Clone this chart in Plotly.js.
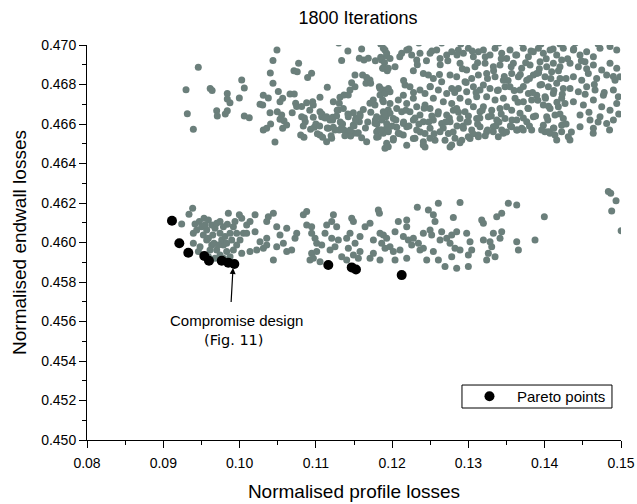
<!DOCTYPE html>
<html>
<head>
<meta charset="utf-8">
<script src="https://cdn.plot.ly/plotly-3.0.1.min.js"></script>
<style>html,body{margin:0;padding:0;background:#fff;}#chart{width:637px;height:504px;}</style>
</head>
<body>
<div id="chart"></div>
<script>
// Pareto front (black points)
const paretoX = [0.09114, 0.09210, 0.09328, 0.09538, 0.09599, 0.09766, 0.09852, 0.09931, 0.11163, 0.11470, 0.11526, 0.12125];
const paretoY = [0.46110, 0.45996, 0.45948, 0.45932, 0.45908, 0.45908, 0.45898, 0.45891, 0.45886, 0.45874, 0.45863, 0.45835];

// All evaluated designs, lower band [profile, endwall]
const lowerBand = [
[.09385,.46173],[.09337,.46143],[.09241,.46094],[.09416,.46094],[.09394,.46047],[.09473,.46106],[.09534,.46123],[.09591,.46114],[.09503,.46080],[.09569,.46063],[.09635,.46089],[.09678,.46072],[.09744,.46106],[.09744,.46047],[.09648,.46038],[.09788,.46080],[.09840,.46092],[.09853,.46148],[.09919,.46080],[.09962,.46047],[.09997,.46140],[.10028,.46123],[.10093,.46089],[.10137,.46106],[.10203,.46140],[.10203,.46055],[.10050,.46047],[.09569,.46013],[.09482,.45979],[.09635,.45987],[.09700,.45962],[.09788,.45987],[.09831,.45954],[.09897,.46013],[.09962,.45987],[.10028,.45945],[.09744,.45937],[.09875,.45928],[.09678,.45920],[.10137,.45954],[.10006,.46013],[.09460,.45954],[.10268,.46004],[.10225,.45962],[.10312,.45971],[.10356,.46021],[.10356,.46106],[.10377,.46131],[.10443,.46148],[.10487,.46080],[.10530,.46038],[.10443,.45911],[.10356,.45987],[.10487,.45979],[.10574,.45996],[.10618,.45954],[.10683,.45962],[.10727,.46021],[.10749,.46047],[.10618,.46072],[.10836,.46140],[.10880,.46157],[.10880,.46089],[.10945,.46080],[.10945,.46047],[.10989,.46021],[.11011,.45996],[.10945,.45945],[.11011,.45954],[.11077,.45987],[.11120,.46047],[.11142,.46089],[.11208,.46106],[.11230,.46140],[.11273,.46080],[.11208,.46021],[.11186,.45962],[.11251,.45979],[.11295,.46013],[.11339,.45928],[.11404,.46021],[.11426,.45971],[.11448,.46047],[.11470,.46123],[.11492,.46106],[.11514,.45996],[.11579,.46030],[.11579,.45954],[.11645,.46080],[.11710,.46097],[.11754,.46013],[.11710,.45920],[.11819,.46165],[.11833,.46148],[.11841,.46047],
[.10923,.45911],[.10967,.45920],[.11055,.45903],[.11404,.45911],[.11492,.45937],[.11557,.45920],[.11754,.45945],[.11841,.45911],
[.09438,.46063],[.09525,.46038],[.09591,.46021],[.09665,.45996],[.09766,.46013],[.09831,.45996],[.09919,.45962],[.09722,.45987],[.09613,.45962],[.09809,.46030],[.09547,.46089],[.09700,.46097],[.09875,.46047],[.09940,.46106],[.10093,.46047],[.09394,.45996],[.09788,.45920],[.09591,.45928],
[.11885,.46038],[.11928,.46021],[.11863,.45996],[.11907,.45971],[.11972,.45979],[.12038,.46055],[.12081,.46106],[.12191,.46114],[.12191,.46080],[.12147,.46030],[.12212,.46013],[.12278,.46021],[.12256,.45987],[.12344,.45996],[.12365,.45962],[.12409,.45971],[.12016,.45954],[.12103,.45962],[.12191,.45920],[.12038,.45911],[.12330,.46178],[.12475,.46165],[.12540,.46140],[.12606,.46199],[.12562,.46106],[.12497,.46063],[.12409,.46047],[.12518,.46038],[.12628,.46013],[.12649,.46055],[.12715,.46021],[.12781,.46038],[.12759,.45996],[.12846,.46055],[.12824,.45971],[.12890,.45962],[.12977,.46047],[.13021,.46004],[.13043,.45962],[.12999,.45937],[.12890,.46202],[.12802,.46126],[.12781,.45928],[.12540,.45954],[.12453,.45911],[.12606,.45911],[.12693,.45878],[.12846,.45869],[.12999,.45878],[.13174,.46114],[.13196,.46097],[.13371,.46131],[.13436,.46148],[.13523,.46199],[.13633,.46190],[.13327,.46047],[.13436,.46055],[.13196,.46013],[.13283,.46004],[.13305,.45979],[.13261,.45945],[.13239,.45911],[.13349,.45928],[.13414,.46021],[.13633,.46004],[.13655,.45962],[.13873,.46013],[.13995,.46131],
[.14834,.46258],[.14865,.46249],[.14935,.46212],[.14878,.46160],[.15002,.46060]
];

// All evaluated designs, upper band [profile, endwall]
const upperBand = [
[.09459,.46887],[.09298,.46774],[.09315,.46652],[.09394,.46573],[.09615,.46780],[.09640,.46770],[.09839,.46755],[.09839,.46727],[.09874,.46708],[.09700,.46667],[.09708,.46641],[.09813,.46651],[.09839,.46667],
[.09997,.46732],[.10028,.46823],[.10062,.46782],[.10062,.46641],[.10127,.46632],[.10438,.46921],[.10490,.46975],[.10403,.46858],[.10438,.46806],[.10268,.46700],[.10303,.46696],[.10311,.46745],[.10377,.46732],[.10399,.46657],[.10311,.46570],[.10355,.46578],[.10407,.46600],[.10464,.46509],[.10508,.46764],[.10530,.46713],[.10565,.46730],[.10494,.46662],[.10552,.46646],[.10530,.46624],[.10582,.46617],[.10565,.46578],[.10617,.46595],[.10661,.46752],[.10717,.46752],[.10713,.46870],[.10756,.46865],[.10774,.46907],[.10690,.46657],[.10735,.46705],[.10748,.46688],[.10814,.46688],[.10879,.46708],[.10958,.46713],[.10966,.46696],[.10814,.46637],[.10861,.46612],[.10835,.46590],[.10801,.46544],[.10844,.46533],[.10892,.46836],[.10944,.46857],[.10931,.46573],[.10979,.46583],[.10966,.46634],[.11054,.46735],[.11054,.46662],[.11076,.46637],[.11054,.46544],[.11089,.46533],[.11150,.46786],[.11141,.46510],[.11207,.46528],[.11141,.46637],[.11185,.46620],[.11220,.46634],[.11272,.46641],[.11163,.46578],[.11229,.46583],[.11307,.46570],[.11338,.46583],[.11369,.46570],[.11229,.46713],[.11307,.46705],[.11316,.46735],[.11369,.46747],[.11425,.46747],[.11338,.46921],[.11294,.46671],[.11360,.46679],[.11425,.46637],[.11491,.46657],[.11526,.46629],[.11578,.46651],[.11622,.46674],[.11570,.46612],[.11447,.46772],[.11513,.46789],[.11469,.46809],[.11513,.46848],[.11570,.46933],[.11631,.46924],[.11687,.46933],[.11709,.46823],[.11657,.46806],[.11718,.46806],[.11613,.46848],[.11666,.46836],[.11491,.46553],[.11556,.46556],[.11491,.46595],[.11666,.46510],[.11797,.46533],[.11818,.46570],[.11775,.46604],[.11709,.46705],[.11775,.46696],[.11753,.46722],[.11841,.46747],[.11875,.46722],[.11832,.46789],[.11884,.46772],[.11850,.46938],[.11927,.46944],[.11906,.46975],[.11875,.46882],[.11936,.46870],[.11797,.46637],[.11862,.46620],[.11919,.46637],[.11884,.46662],[.11949,.46671],[.11927,.46578],[.11884,.46553],
[.11885,.46983],[.11928,.46958],[.11863,.46924],[.11972,.46932],[.11885,.46882],[.11950,.46882],[.12038,.46890],[.11841,.46780],[.11907,.46755],[.11972,.46763],[.11885,.46713],[.11972,.46704],[.12081,.46721],[.12147,.46746],[.12060,.46679],[.12125,.46662],[.11972,.46654],[.11885,.46637],[.12016,.46628],[.11928,.46603],[.11863,.46569],[.11950,.46561],[.12060,.46583],[.12147,.46603],[.12016,.46527],[.11928,.46502],
[.12125,.46958],[.12191,.46975],[.12256,.46949],[.12322,.46924],[.12365,.46958],[.12278,.46870],[.12409,.46856],[.12169,.46797],[.12234,.46789],[.12365,.46772],[.12431,.46755],[.12278,.46730],[.12191,.46704],[.12322,.46687],[.12431,.46696],[.12234,.46662],[.12365,.46645],[.12278,.46620],[.12409,.46611],[.12191,.46586],[.12322,.46569],[.12431,.46552],[.12278,.46527],[.12409,.46510],[.12191,.46493],
[.12497,.46958],[.12584,.46975],[.12628,.46932],[.12715,.46949],[.12781,.46966],[.12475,.46848],[.12540,.46831],[.12649,.46814],[.12759,.46848],[.12497,.46789],[.12606,.46772],[.12715,.46755],[.12781,.46780],[.12540,.46730],[.12671,.46713],[.12781,.46704],[.12497,.46679],[.12606,.46662],[.12715,.46645],[.12802,.46670],[.12540,.46620],[.12649,.46603],[.12759,.46611],[.12497,.46578],[.12628,.46561],[.12737,.46552],[.12562,.46518],[.12693,.46518],[.12759,.46484],[.12431,.46484],
[.12868,.46975],[.12934,.46958],[.12999,.46983],[.13065,.46941],[.13130,.46966],[.12890,.46907],[.12977,.46873],[.13086,.46890],[.12846,.46839],[.12955,.46814],[.13043,.46831],[.13130,.46848],[.12868,.46780],[.12977,.46763],[.13065,.46789],[.13152,.46772],[.12890,.46730],[.12999,.46713],[.13108,.46738],[.12846,.46679],[.12955,.46662],[.13065,.46687],[.13152,.46662],[.12890,.46628],[.12999,.46611],[.13108,.46628],[.12934,.46578],[.13043,.46569],[.13152,.46586],[.13021,.46527],[.13130,.46535],[.12912,.46518],
[.13196,.46975],[.13283,.46949],[.13349,.46983],[.13436,.46958],[.13502,.46932],[.13218,.46907],[.13327,.46890],[.13414,.46899],[.13239,.46856],[.13349,.46839],[.13458,.46822],[.13196,.46797],[.13283,.46780],[.13392,.46772],[.13480,.46789],[.13239,.46738],[.13349,.46721],[.13458,.46730],[.13196,.46687],[.13305,.46670],[.13414,.46679],[.13502,.46687],[.13261,.46637],[.13371,.46620],[.13480,.46628],[.13327,.46586],[.13436,.46569],[.13239,.46561],[.13392,.46535],
[.13545,.46975],[.13633,.46949],[.13720,.46983],[.13786,.46941],[.13851,.46966],[.13589,.46907],[.13698,.46882],[.13808,.46899],[.13567,.46856],[.13655,.46839],[.13764,.46822],[.13851,.46848],[.13545,.46789],[.13676,.46772],[.13786,.46755],[.13611,.46730],[.13720,.46713],[.13829,.46721],[.13567,.46670],[.13676,.46654],[.13786,.46679],[.13633,.46620],[.13764,.46611],[.13851,.46637],[.13698,.46578],[.13829,.46569],[.13567,.46586],
[.13917,.46983],[.13982,.46958],[.14070,.46975],[.14157,.46949],[.14244,.46983],[.13939,.46915],[.14026,.46890],[.14113,.46907],[.14222,.46924],[.13895,.46856],[.14004,.46839],[.14091,.46865],[.14201,.46831],[.13939,.46797],[.14048,.46789],[.14157,.46806],[.14244,.46780],[.13895,.46746],[.14004,.46738],[.14113,.46755],[.14222,.46730],[.13982,.46696],[.14070,.46679],[.14179,.46687],[.14266,.46704],[.14026,.46637],[.14135,.46645],[.14244,.46628],[.13982,.46594],[.14113,.46578],[.14222,.46594],[.14048,.46561],
[.14376,.46975],[.14463,.46949],[.14550,.46966],[.14638,.46941],[.14725,.46983],[.14856,.46992],[.14944,.46975],[.14332,.46907],[.14441,.46890],[.14528,.46915],[.14638,.46899],[.14747,.46873],[.14856,.46907],[.14944,.46882],[.14376,.46839],[.14485,.46822],[.14572,.46856],[.14681,.46831],[.14812,.46848],[.14922,.46822],[.14987,.46839],[.14332,.46780],[.14441,.46763],[.14550,.46789],[.14660,.46772],[.14769,.46746],[.14900,.46772],[.14965,.46738],[.14376,.46713],[.14507,.46696],[.14638,.46721],[.14747,.46687],[.14856,.46670],[.14944,.46704],[.14463,.46645],[.14594,.46620],[.14725,.46637],[.14900,.46620],[.14638,.46578],[.14812,.46603],[.14463,.46586],
[.11906,.46477],[.11949,.46485],[.12015,.46519],[.12299,.46528],[.12408,.46494],[.12496,.46528],[.12781,.46494],[.12824,.46528],[.12889,.46505],[.14157,.46519],[.14331,.46519],
[.12080,.46553],[.12146,.46544],[.12998,.46536],[.13129,.46544],[.13326,.46561],[.13457,.46553],[.13632,.46570],[.13719,.46570],[.14003,.46561],[.14069,.46553],[.14134,.46544],[.14222,.46561],[.14309,.46536],[.14636,.46553],
[.11543,.46553],[.11425,.46553],[.11456,.46539],[.11797,.46561],[.11818,.46536],
[.1185,.47005],[.1235,.4701],[.1290,.47005],[.1340,.4701],[.1395,.47005],[.1440,.4701],[.1470,.47005],[.1130,.4701],[.1265,.4701],[.1370,.4701],[.1420,.47005]
];

// Designs filling the densest parts of the upper band
const upperDense = [
[.1190,.4691],[.1210,.4694],[.1222,.4698],[.1233,.4690],[.1245,.4692],[.1252,.4697],[.1263,.4690],[.1273,.4692],[.1285,.4695],[.1292,.4688],[.1305,.4697],[.1312,.4691],[.1322,.4694],[.1333,.4687],[.1343,.4693],[.1356,.4689],[.1362,.4695],[.1375,.4691],[.1382,.4697],[.1393,.4688],[.1402,.4693],[.1411,.4698],[.1420,.4689],[.1430,.4693],[.1438,.4698],[.1448,.4692],[.1455,.4688],
[.1352,.4682],[.1360,.4677],[.1368,.4685],[.1372,.4679],[.1380,.4683],[.1384,.4676],[.1392,.4686],[.1396,.4680],[.1401,.4673],[.1408,.4683],[.1412,.4677],[.1418,.4687],[.1423,.4675],[.1428,.4683],[.1365,.4671],[.1378,.4668],[.1391,.4672],[.1405,.4669],[.1416,.4671],
[.1180,.4660],[.1190,.4665],[.1195,.4657],[.1205,.4662],[.1210,.4655],[.1218,.4667],[.1222,.4659],[.1230,.4663],[.1237,.4656],[.1242,.4668],[.1248,.4661],[.1255,.4655],[.1260,.4665],[.1267,.4658],[.1275,.4663],[.1280,.4656],[.1287,.4666],[.1293,.4659],[.1300,.4664],[.1306,.4655],[.1312,.4660],[.1318,.4667],[.1325,.4657],[.1330,.4664],[.1336,.4659],[.1343,.4665],[.1350,.4656],[.1357,.4662],[.1364,.4657],[.1372,.4663],[.1380,.4659],[.1388,.4664],[.1396,.4657],[.1404,.4662],[.1412,.4658],[.1420,.4665],[.1428,.4660],[.1435,.4656],
[.1195,.4678],[.1215,.4682],[.1228,.4676],[.1250,.4679],[.1262,.4685],[.1282,.4676],[.1297,.4681],[.1310,.4676],[.1325,.4683],[.1338,.4677],[.1347,.4684],
[.1085,.4663],[.1092,.4667],[.1100,.4660],[.1108,.4665],[.1115,.4658],[.1122,.4662],[.1128,.4667],[.1135,.4660],[.1142,.4665],[.1150,.4659],[.1158,.4664],[.1165,.4658],[.1172,.4666],[.1178,.4662],[.1102,.4655],[.1120,.4654],[.1138,.4654],[.1160,.4653],
[.1465,.4680],[.1478,.4676],[.1490,.4684],[.1497,.4665],[.1470,.4661],[.1485,.4657],[.1453,.4675],[.1458,.4666],
[.1105,.4659],[.1112,.4663],[.1125,.4657],[.1132,.4661],[.1145,.4657],[.1152,.4662],[.1168,.4661],[.1185,.4657],[.1200,.4659],[.1215,.4661],[.1235,.4660],[.1252,.4664],[.1270,.4661],[.1285,.4659],[.1298,.4661],[.1315,.4663],[.1322,.4654],[.1340,.4661],[.1355,.4659],
[.1160,.4698],[.1178,.4692],[.1142,.4697]
];

const designs = lowerBand.concat(upperBand, upperDense);
const designX = designs.map(p => p[0]);
const designY = designs.map(p => p[1]);

const FONT = 'Liberation Sans, Arial, Helvetica, sans-serif';

const traces = [
  {
    x: designX, y: designY, type: 'scatter', mode: 'markers',
    marker: {color: '#6b7f7b', size: 7},
    showlegend: false, hoverinfo: 'skip'
  },
  {
    x: paretoX, y: paretoY, type: 'scatter', mode: 'markers', name: 'Pareto points',
    marker: {color: '#000000', size: 10}
  }
];

const axisCommon = {
  showline: true, linecolor: '#000', linewidth: 1, mirror: false,
  ticks: 'outside', ticklen: 7, tickcolor: '#000', tickwidth: 1,
  showgrid: false, zeroline: false,
  tickfont: {family: FONT, size: 14, color: '#000'}
};

const layout = {
  width: 637, height: 504,
  margin: {l: 87, r: 16, t: 45, b: 64},
  paper_bgcolor: '#fff', plot_bgcolor: '#fff',
  title: {text: '1800 Iterations', font: {family: FONT, size: 18, color: '#000'}, x: 0.562, xanchor: 'center', y: 0.964, yanchor: 'middle'},
  xaxis: Object.assign({}, axisCommon, {
    range: [0.08, 0.15], tick0: 0.08, dtick: 0.01, tickformat: '.2f', ticklabelstandoff: 3,
    minor: {dtick: 0.005, ticks: 'outside', ticklen: 4, tickcolor: '#000'},
    title: {text: 'Normalised profile losses', font: {family: FONT, size: 19, color: '#000'}, standoff: 14}
  }),
  yaxis: Object.assign({}, axisCommon, {
    range: [0.45, 0.47], tick0: 0.45, dtick: 0.002, tickformat: '.3f',
    minor: {dtick: 0.001, ticks: 'outside', ticklen: 4, tickcolor: '#000'},
    title: {text: 'Normalised endwall losses', font: {family: FONT, size: 19, color: '#000'}, standoff: 9}
  }),
  legend: {
    x: 0.7022, xanchor: 'left', y: 0.0684, yanchor: 'bottom',
    borderwidth: 0, bgcolor: 'rgba(0,0,0,0)',
    font: {family: FONT, size: 15, color: '#000'}, itemwidth: 45
  },
  shapes: [
    {type: 'rect', xref: 'paper', yref: 'paper', x0: 0.7022, x1: 0.9831, y0: 0.081, y1: 0.1392,
     line: {color: '#000', width: 1}, fillcolor: '#fff', layer: 'above'}
  ],
  annotations: [
    {x: 0.09914, y: 0.45871, xref: 'x', yref: 'y', text: ' ', font: {size: 1},
     showarrow: true, arrowhead: 2, arrowsize: 1, arrowwidth: 1.2, arrowcolor: '#000', ax: -2, ay: 36},
    {x: 0.09966, y: 0.45603, xref: 'x', yref: 'y', text: 'Compromise design', showarrow: false,
     font: {family: FONT, size: 15, color: '#000'}},
    {x: 0.09927, y: 0.45506, xref: 'x', yref: 'y', text: '(Fig. 11)', showarrow: false,
     font: {family: 'DejaVu Sans, sans-serif', size: 14.5, color: '#000'}}
  ]
};

Plotly.newPlot('chart', traces, layout, {displayModeBar: false, staticPlot: true});
</script>
</body>
</html>
